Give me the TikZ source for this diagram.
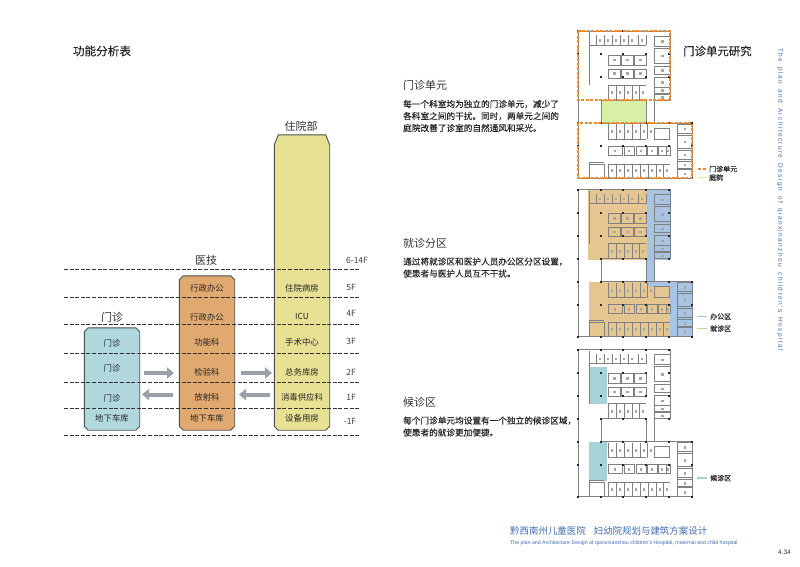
\documentclass[tikz,border=0pt]{standalone}
\usepackage{fontspec}
\setmainfont{Noto Sans CJK SC}
\newfontfamily\boldcjk[FakeBold=0.3]{Noto Sans CJK SC}
\newfontfamily\latinfont[LetterSpace=22,WordSpace=1.6]{Liberation Sans}
\newfontfamily\smallfont{Liberation Sans}
\usetikzlibrary{calc,arrows.meta}
\definecolor{clinicblue}{HTML}{B0D8DE}
\definecolor{techorange}{HTML}{E0A970}
\definecolor{wardyellow}{HTML}{E8E092}
\definecolor{blockline}{HTML}{4A5050}
\definecolor{flowgray}{HTML}{98A0AA}
\definecolor{unitorange}{HTML}{EE8A2A}
\definecolor{yardgreen}{HTML}{D8EFA6}
\definecolor{officeblue}{HTML}{A9C4E2}
\definecolor{visittan}{HTML}{E5C690}
\definecolor{waitteal}{HTML}{A6D3DA}
\definecolor{titleblue}{HTML}{3F6DB0}
\tikzset{
    blockbox/.style={rectangle,minimum width=55pt,inner sep=0pt},
    blockshape/.style={draw=blockline,line width=0.9pt},
    celltext/.style={font=\fontsize{8.4}{10}\selectfont,text=black!85},
    headtext/.style={font=\fontsize{11}{13}\selectfont,text=black!80},
    floortext/.style={font=\fontsize{8.5}{10}\selectfont,text=black!75},
    floorline/.style={dash pattern=on 4pt off 1.6pt,line width=0.8pt,black!80},
    flowarrow/.style={-{Triangle[length=7pt,width=11pt]},line width=4pt,flowgray},
    bodytext/.style={font=\boldcjk\fontsize{8.65}{12}\selectfont,align=left,anchor=west,inner sep=0pt,text=black!85},
    keytext/.style={font=\boldcjk\fontsize{7}{9}\selectfont,anchor=west,inner sep=0pt,text=black!85},
    unitdash/.style={unitorange,dash pattern=on 3pt off 1.5pt,line width=1.1pt},
    keyline/.style={line width=1.6pt},
    wall/.style={draw=black!50,line width=0.7pt},
    planpic/.pic={
        % outer walls
        \draw[wall] (0,0) -- (92,0) -- (92,69) -- (76,69) -- (76,92) -- (114,92) -- (114,147) -- (0,147) -- cycle;
        \draw[wall] (23,69) rectangle (68,92);
        \draw[wall] (68,92) -- (76,92);
        \draw[wall] (11,1) -- (11,54) (11,14) -- (68,14) (11,131) -- (11,147) (11,131) -- (26,131);
        \draw[wall] (30,54) -- (68,54) (30,108) -- (68,108) (30,133) -- (92,133) (99,93) -- (99,147);
        % rooms upper block
        \foreach \xa in {18,26,34,42,50,60,68} {
            \draw[wall] (\xa,4) -- (\xa,14);
        }
        \foreach \xa in {18,26,34,42,50,60} {
            \fill[black!35] (\xa+2.5,8) rectangle +(2,2.5);
        }
        \foreach \xa in {30,43,56} {
            \draw[wall] (\xa,24) rectangle +(12,10);
            \draw[wall] (\xa,38) rectangle +(12,9);
            \fill[black!35] (\xa+5,27.5) rectangle +(2.5,2.5);
            \fill[black!35] (\xa+5,41) rectangle +(2.5,2.5);
        }
        \foreach \xa in {30,38,46,54,61} {
            \draw[wall] (\xa,54) -- (\xa,69);
            \fill[black!35] (\xa+2.5,60) rectangle +(2,3);
        }
        \foreach \ya/\ha in {5/10,17/15,35/8,46/10,56/6,63/6} {
            \draw[wall] (76,\ya) rectangle +(16,\ha);
            \fill[black!35] (83,\ya+\ha/2-1) rectangle +(2.5,2.5);
        }
        % rooms lower block
        \foreach \xa in {30,38,46,54,62,69} {
            \draw[wall] (\xa,93) -- (\xa,108);
            \fill[black!35] (\xa+2.5,99) rectangle +(2,3);
        }
        \draw[wall] (76,97) rectangle (91,108);
        \foreach \xa/\wa in {30/14,46/10,58/10,69/10,80/8,88/4} {
            \draw[wall] (\xa,115) rectangle +(\wa,9);
            \fill[black!35] (\xa+\wa/2-1,118.5) rectangle +(2,2.5);
        }
        \foreach \xa in {30,38,46,54,62,70,78,85} {
            \draw[wall] (\xa,133) -- (\xa,147);
            \fill[black!35] (\xa+2.5,138) rectangle +(2,3);
        }
        \draw[wall] (11,133) rectangle (26,147);
        \foreach \ya/\ha in {93/9,104/13,119/9,130/7,138/9} {
            \draw[wall] (99,\ya) rectangle +(15,\ha);
            \fill[black!35] (105.5,\ya+\ha/2-1) rectangle +(2.5,2.5);
        }
        % columns
        \foreach \xa in {0,23,45,68,91} {
            \foreach \ya in {0,23,46,69,92,115,147} {
                \fill[black!85] (\xa-1,\ya-1) rectangle +(2,2);
            }
        }
        \foreach \ya in {92,115,147} {
            \fill[black!85] (113,\ya-1) rectangle +(2,2);
        }
    }
}
\begin{document}
\begin{tikzpicture}[x=1pt,y=-1pt]
    \useasboundingbox (0,0) rectangle (800,566);

    % function table
    \node [font=\boldcjk\fontsize{11.6}{13}\selectfont,text=black!85] (tabletitle) at (102,51) {功能分析表};

    \node [blockbox,minimum height=102pt] (clinicblock) at (112,379) {};
    \node [blockbox,minimum height=154pt] (techblock) at (207,353) {};
    \node [blockbox,minimum height=295pt] (wardblock) at (302,282.5) {};
    \foreach \name/\col/\cutx/\cuty in {clinicblock/clinicblue/4/4,techblock/techorange/4/4,wardblock/wardyellow/4/10} {
        \draw [blockshape,fill=\col]
            ($(\name.north west)+(\cutx,0)$) -- ($(\name.north east)+(-\cutx,0)$)
            -- ($(\name.north east)+(0,\cuty)$) -- ($(\name.south east)+(0,-4)$)
            -- ($(\name.south east)+(-4,0)$) -- ($(\name.south west)+(4,0)$)
            -- ($(\name.south west)+(0,-4)$) -- ($(\name.north west)+(0,\cuty)$) -- cycle;
    }

    \node [headtext] (clinichead) at (112,317) {门诊};
    \node [headtext] (techhead) at (206,260) {医技};
    \node [headtext] (wardhead) at (301,126) {住院部};

    \foreach \ya [count=\i] in {269,297,324,353,382,408,435} {
        \coordinate (lineL\i) at (64,\ya);
        \coordinate (lineR\i) at (360,\ya);
        \draw [floorline] (lineL\i) -- (lineR\i);
    }

    \foreach \ya/\name [count=\i] in {343/门诊,368/门诊,398/门诊,418/地下车库} {
        \node [celltext] (cliniccell\i) at (112,\ya) {\name};
    }
    \foreach \ya/\name [count=\i] in {288/行政办公,317/行政办公,342/功能科,372/检验科,397/放射科,418/地下车库} {
        \node [celltext] (techcell\i) at (207,\ya) {\name};
    }
    \foreach \ya/\name [count=\i] in {288/住院病房,316/ICU,342/手术中心,372/总务库房,397/消毒供应科,418/设备用房} {
        \node [celltext] (wardcell\i) at (302,\ya) {\name};
    }
    \foreach \xa/\ya/\name [count=\i] in {357/260/6-14F,351/287/5F,351/313/4F,351/341/3F,351/372/2F,351/397/1F,350/421/-1F} {
        \node [floortext] (floor\i) at (\xa,\ya) {\name};
    }

    \coordinate (flowA) at (144,373);
    \coordinate (flowB) at (174,373);
    \coordinate (flowC) at (173,394.5);
    \coordinate (flowD) at (142,394.5);
    \coordinate (flowE) at (241,373);
    \coordinate (flowF) at (272,373);
    \coordinate (flowG) at (270,394.5);
    \coordinate (flowH) at (239,394.5);
    \draw [flowarrow] (flowA) -- (flowB);
    \draw [flowarrow] (flowC) -- (flowD);
    \draw [flowarrow] (flowE) -- (flowF);
    \draw [flowarrow] (flowG) -- (flowH);

    % text column
    \node [headtext,anchor=west,inner sep=0pt] (unithead) at (403,85) {门诊单元};
    \node [bodytext] (unitbody) at (403,116) {每一个科室均为独立的门诊单元，减少了\\各科室之间的干扰。同时，两单元之间的\\庭院改善了诊室的自然通风和采光。};
    \node [headtext,anchor=west,inner sep=0pt] (zonehead) at (403,243) {就诊分区};
    \node [bodytext] (zonebody) at (403,267.5) {通过将就诊区和医护人员办公区分区设置，\\使患者与医护人员互不干扰。};
    \node [headtext,anchor=west,inner sep=0pt] (waithead) at (403,402) {候诊区};
    \node [bodytext] (waitbody) at (403,426.5) {每个门诊单元均设置有一个独立的候诊区域，\\使患者的就诊更加便捷。};

    % plan one
    \begin{scope}[shift={(578,31)}]
        \fill [yardgreen] (23,69) rectangle (68,92);
    \end{scope}
    \pic at (578,31) {planpic};
    \begin{scope}[shift={(578,31)}]
        \draw [unitdash] (0,0) rectangle (92,69);
        \draw [unitdash] (0,92) rectangle (114,147);
    \end{scope}

    % plan two
    \begin{scope}[shift={(578,189.5)}]
        \fill [visittan] (10,0) rectangle (69,70);
        \fill [officeblue] (69,0) rectangle (92,70);
        \fill [officeblue] (69,70) rectangle (76,97);
        \fill [officeblue] (69,92) rectangle (92,97);
        \fill [visittan] (11,92) rectangle (69,147);
        \fill [visittan] (69,97) rectangle (92,147);
        \fill [officeblue] (92,92) rectangle (114,147);
    \end{scope}
    \pic at (578,189.5) {planpic};

    % plan three
    \begin{scope}[shift={(578,349.5)}]
        \fill [waitteal] (11,17) rectangle (29,54);
        \fill [waitteal] (11,92) rectangle (29,131);
    \end{scope}
    \pic at (578,349.5) {planpic};

    % keys
    \node [keytext] (keyunit) at (709,169) {门诊单元};
    \node [keytext] (keyyard) at (709,177.5) {庭院};
    \node [keytext] (keyoffice) at (710,316.5) {办公区};
    \node [keytext] (keyvisit) at (710,328.5) {就诊区};
    \node [keytext] (keywait) at (710,478) {候诊区};
    \coordinate (markunit) at (698,169);
    \coordinate (markyard) at (698,177.5);
    \coordinate (markoffice) at (697,316.5);
    \coordinate (markvisit) at (697,328.5);
    \coordinate (markwait) at (697,478);
    \draw [unitdash] (markunit) -- ($(keyunit.west)+(-2,0)$);
    \draw [keyline,yardgreen] (markyard) -- ($(keyyard.west)+(-2,0)$);
    \draw [keyline,officeblue] (markoffice) -- ($(keyoffice.west)+(-3,0)$);
    \draw [keyline,visittan] (markvisit) -- ($(keyvisit.west)+(-3,0)$);
    \draw [keyline,waitteal] (markwait) -- ($(keywait.west)+(-3,0)$);

    % titles
    \node [anchor=west,inner sep=0pt,font=\boldcjk\fontsize{11.4}{13}\selectfont,text=black!85] (studytitle) at (683,51) {门诊单元研究};
    \node [rotate=-90,anchor=west,inner sep=0pt,text=titleblue,font=\latinfont\fontsize{6.5}{8}\selectfont] (sidetitle) at (780,48)
        {The plan and Architecture Design of qianxinanzhou children's Hospital};
    \node [anchor=west,inner sep=0pt,text=titleblue,font=\fontsize{9.45}{11}\selectfont] (foottitle) at (510,531)
        {黔西南州儿童医院\hspace{8pt}妇幼院规划与建筑方案设计};
    \node [anchor=west,inner sep=0pt,text=titleblue,font=\smallfont\fontsize{5.23}{6}\selectfont] (footline) at (510,543)
        {The plan and Architecture Design of qianxinanzhou children's Hospital, maternal and child hospital};
    \node [anchor=west,inner sep=0pt,text=black!80,font=\smallfont\fontsize{6.5}{8}\selectfont] (pagenum) at (778,552) {4.34};
\end{tikzpicture}
\end{document}
